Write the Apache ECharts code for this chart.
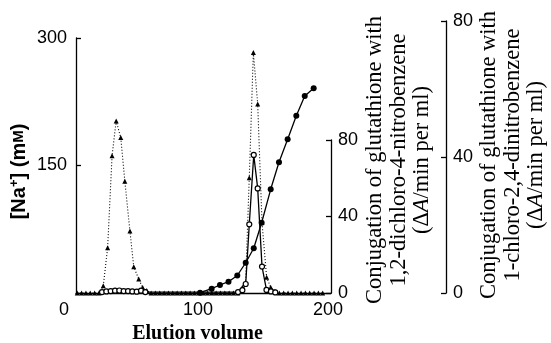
<!DOCTYPE html>
<html>
<head>
<meta charset="utf-8">
<script src="https://cdn.jsdelivr.net/npm/echarts@6/dist/echarts.min.js"></script>
<style>html,body{margin:0;padding:0;background:#fff}#c{width:551px;height:343px}</style>
</head>
<body>
<div id="c"></div>
<script>
// Elution volume (x) for the dotted CDNB series (small filled triangles)
const volCdnb = [1.0,4.4,7.8,11.2,14.6,18.0,
  21.4,24.8,28.3,31.5,35.1,38.3,42.3,45.3,49.2,52.3,55.5,
  58.9,62.3,65.7,69.1,72.5,75.9,79.3,82.7,86.1,89.5,92.9,96.3,99.7,103.1,106.5,109.9,113.3,116.7,120.1,123.5,126.9,
  130.5,133.0,135.9,139.1,142.5,145.9,149.5,152.7,156.1,
  159.5,162.9,166.3,169.7,173.1,176.5,179.9,183.3,186.7,190.1,193.5];
const cdnb = [0,0,0,0,0,0,
  2.1,13.3,40.4,50.6,45.7,32.9,18.2,7.7,4.1,1.6,0.7,
  0,0,0,0,0,0,0,0,0,0,0,0,0,0,0,0,0,0,0,0,0,
  1.7,3.0,33.9,70.7,55.6,20.7,4.6,1.7,0.5,
  0,0,0,0,0,0,0,0,0,0,0];
// open circles: 1,2-dichloro-4-nitrobenzene activity
const volDcnb = [20.4,23.8,27.2,30.6,34.0,37.4,40.8,44.2,47.6,51.0,54.4,
  127.1,130.5,133.1,135.9,139.4,142.5,145.9,149.4,152.9,156.3];
const dcnb = [0.5,0.8,1.0,1.2,1.3,1.0,1.0,0.8,0.7,1.2,0.5,
  0.5,1.5,4.7,35.9,72.2,54.7,13.8,1.6,0.8,0.3];
// filled circles: [Na+] (mM)
const volNa = [97.3,106.4,112.9,119.6,126.5,133.1,139.4,145.6,152.7,159.2,166.0,172.8,179.4,186.4];
const na = [0.4,5.1,9.4,13.3,20.6,35.6,52.6,82.7,122,153.8,180.8,208.6,231.8,240.8];
// ticks
const xTicks = [0,100,200];
const naTicks = [0,150,300];
const actTicks = [0,40,80];

const zip = (a,b)=>a.map((v,i)=>[v,b[i]]);
const blk = '#000';
const lblFont = {fontFamily:'Liberation Sans', fontSize:18, color:blk};
function yAx(grid, pos, ticks, extra){
  return Object.assign({
    gridIndex:grid, type:'value', position:pos,
    min:ticks[0], max:ticks[ticks.length-1], interval:ticks[1]-ticks[0],
    axisLine:{show:true, onZero:false, lineStyle:{color:blk, width:1.3}},
    axisTick:{show:true, inside:true, length:5, lineStyle:{color:blk, width:1.3}},
    axisLabel:Object.assign({margin:7}, lblFont),
    splitLine:{show:false}
  }, extra||{});
}
const g = {left:76, right:220, bottom:50, outerBoundsMode:'none', containLabel:false};
const chart = echarts.init(document.getElementById('c'), null, {renderer:'canvas'});
const titleFont = '22.5px "Liberation Serif"';
const titleRich = {n:{font:titleFont, fill:blk, lineHeight:23.5}, i:{font:'italic '+titleFont, fill:blk, lineHeight:23.5}};
chart.setOption({
  animation:false,
  backgroundColor:'#fff',
  grid:[
    Object.assign({top:38}, g),
    Object.assign({top:140}, g),
    Object.assign({top:21}, g)
  ],
  xAxis:[
    {gridIndex:0, type:'value', min:xTicks[0], max:xTicks[2], interval:xTicks[1]-xTicks[0],
     axisLine:{onZero:false, lineStyle:{color:blk, width:1.3}}, axisTick:{show:false}, splitLine:{show:false},
     axisLabel:{margin:8, formatter:v=> v===0?'{a|0}':(v===100?'{b|100}':'{c|200}'),
       rich:{a:Object.assign({padding:[0,24,0,0]},lblFont), b:Object.assign({padding:[0,11,0,0]},lblFont), c:Object.assign({padding:[0,6,0,0]},lblFont)}},
     name:'Elution volume', nameLocation:'middle', nameGap:30,
     nameTextStyle:{fontFamily:'Liberation Serif', fontWeight:'bold', fontSize:20, color:blk, padding:[0,12,0,0]}},
    {gridIndex:1, type:'value', min:0, max:200, show:false},
    {gridIndex:2, type:'value', min:0, max:200, show:false}
  ],
  yAxis:[
    yAx(0,'left',naTicks,{axisLabel:Object.assign({margin:9, formatter:v=> v===0?'':String(v)},lblFont),
      name:'{b|[Na}{s|+}{b|] (m}{m|M}{b|)}', nameLocation:'middle', nameRotate:90, nameGap:46,
      nameTextStyle:{padding:[0,12,0,0], rich:{
        b:{fontFamily:'Liberation Sans', fontWeight:'bold', fontSize:20, color:blk},
        s:{fontFamily:'Liberation Sans', fontWeight:'bold', fontSize:13, color:blk, padding:[0,0,9,0]},
        m:{fontFamily:'Liberation Sans', fontWeight:'bold', fontSize:15, color:blk}}}}),
    yAx(1,'right',actTicks),
    yAx(2,'right',actTicks,{offset:115})
  ],
  graphic:[
    {type:'text', x:399, y:160, rotation:Math.PI/2, silent:true,
     style:{text:'Conjugation of glutathione with\n1,2-dichloro-4-nitrobenzene\n{n|(Δ}{i|A}{n|/min per ml)}',
       font:titleFont, fill:blk, align:'center', verticalAlign:'middle', lineHeight:23.5, rich:titleRich}},
    {type:'text', x:513, y:155, rotation:Math.PI/2, silent:true,
     style:{text:'Conjugation of glutathione with\n1-chloro-2,4-dinitrobenzene\n{n|(Δ}{i|A}{n|/min per ml)}',
       font:titleFont, fill:blk, align:'center', verticalAlign:'middle', lineHeight:23.5, rich:titleRich}}
  ],
  series:[
    {type:'line', xAxisIndex:2, yAxisIndex:2, data:zip(volCdnb,cdnb), symbol:'triangle', symbolSize:5,
     itemStyle:{color:blk}, lineStyle:{color:blk, width:1.1, type:[1,2]}, z:3},
    {type:'line', xAxisIndex:1, yAxisIndex:1, data:zip(volDcnb,dcnb), symbol:'circle', symbolSize:5,
     itemStyle:{color:'#fff', borderColor:blk, borderWidth:1.2}, lineStyle:{color:blk, width:1.3}, z:4},
    {type:'line', xAxisIndex:0, yAxisIndex:0, data:zip(volNa,na), symbol:'circle', symbolSize:6,
     itemStyle:{color:blk}, lineStyle:{color:blk, width:1.3}, z:5}
  ]
});
</script>
</body>
</html>
